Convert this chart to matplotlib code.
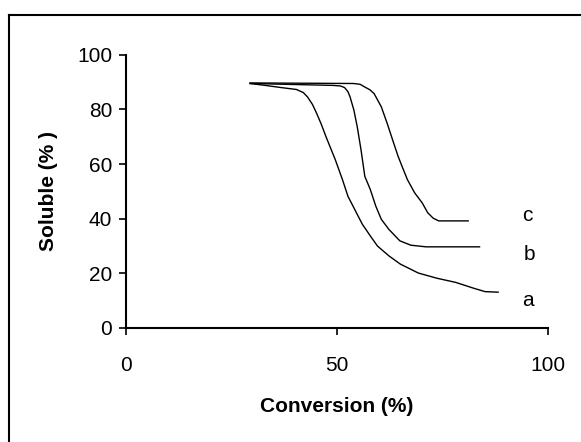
import matplotlib
matplotlib.use("Agg")
import matplotlib.pyplot as plt
from matplotlib.lines import Line2D

plt.rcParams['font.family'] = ['Liberation Sans', 'DejaVu Sans']

# curve a
conv_a = [29.4, 33.0, 36.8, 40.4, 42.0, 43.0, 44.2, 45.2, 46.3, 47.4, 48.5,
          49.6, 51.3, 52.6, 54.4, 56.0, 57.9, 59.6, 62.3, 65.0, 69.3, 73.7,
          78.1, 82.5, 85.1, 88.2]
sol_a = [89.5, 88.8, 88.0, 87.3, 86.2, 84.6, 81.8, 78.5, 74.5, 70.0, 65.8,
         61.6, 54.3, 48.2, 42.8, 38.0, 33.7, 30.0, 26.4, 23.4, 20.1, 18.2,
         16.7, 14.5, 13.3, 13.1]

# curve b
conv_b = [29.4, 49.1, 50.8, 51.8, 52.6, 53.1, 54.0, 54.8, 55.7, 56.6, 57.9,
          59.2, 60.5, 62.3, 64.9, 67.5, 71.1, 83.8]
sol_b = [89.5, 88.8, 88.6, 88.0, 86.5, 84.6, 79.8, 73.7, 65.2, 55.5, 50.7,
         44.6, 39.8, 36.1, 31.9, 30.3, 29.7, 29.7]

# curve c
conv_c = [29.4, 53.9, 55.5, 56.6, 57.8, 58.8, 60.5, 61.9, 63.2, 64.5, 65.6,
          66.7, 68.4, 70.2, 71.5, 72.8, 74.1, 81.1]
sol_c = [89.7, 89.5, 89.2, 88.2, 87.2, 85.8, 81.0, 74.9, 68.8, 62.8, 58.5,
         54.3, 49.5, 45.8, 42.2, 40.2, 39.2, 39.2]

curve_labels = ['a', 'b', 'c']
label_x = [95.2, 95.6, 95.2]
label_y = [10.0, 27.0, 41.0]

x_ticks = [0, 50, 100]
y_ticks = [0, 20, 40, 60, 80, 100]

fig = plt.figure(figsize=(5.81, 4.42), dpi=100)
ax = fig.add_axes([0.217, 0.258, 0.726, 0.618])

for xs, ys in [(conv_a, sol_a), (conv_b, sol_b), (conv_c, sol_c)]:
    ax.plot(xs, ys, color='black', linewidth=1.0)

for lab, lx, ly in zip(curve_labels, label_x, label_y):
    ax.text(lx, ly, lab, fontsize=15, ha='center', va='center')

ax.set_xlim(0, 100)
ax.set_ylim(0, 100)
ax.set_xticks(x_ticks)
ax.set_yticks(y_ticks)
ax.tick_params(direction='out', length=5, width=1.2, labelsize=15)
ax.tick_params(axis='x', pad=15)
ax.tick_params(axis='y', pad=5)
for side in ['top', 'right']:
    ax.spines[side].set_visible(False)
for side in ['left', 'bottom']:
    ax.spines[side].set_linewidth(1.5)
ax.spines['left'].set_bounds(0, 100)
ax.spines['bottom'].set_bounds(0, 100)

ax.set_xlabel('Conversion (%)', fontsize=15, fontweight='bold', labelpad=16)
ax.set_ylabel('Soluble (% )', fontsize=15, fontweight='bold', labelpad=14)

# outer frame (top and left edges visible)
fig.add_artist(Line2D([9 / 581, 1.0], [1 - 15 / 442, 1 - 15 / 442],
                      transform=fig.transFigure, color='black', linewidth=1.5))
fig.add_artist(Line2D([9 / 581, 9 / 581], [0.0, 1 - 15 / 442],
                      transform=fig.transFigure, color='black', linewidth=1.5))

fig.savefig('out.png', dpi=100)
